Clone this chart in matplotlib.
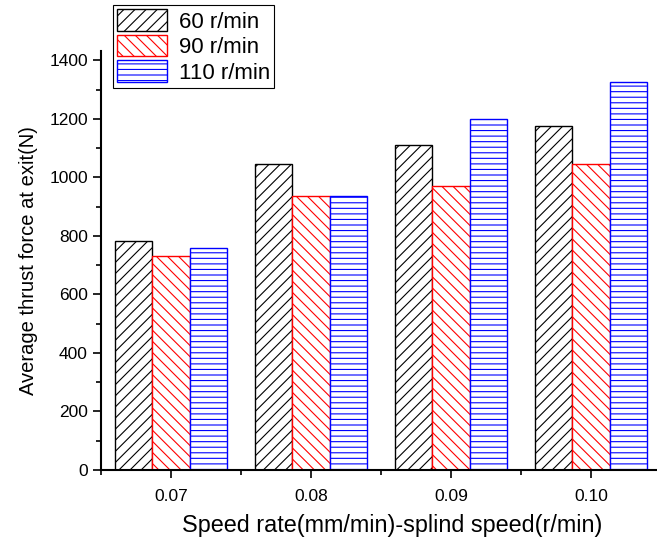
import matplotlib
matplotlib.use("Agg")
import matplotlib.pyplot as plt
import numpy as np
from matplotlib.ticker import MultipleLocator

categories = ["0.07", "0.08", "0.09", "0.10"]
series_names = ["60 r/min", "90 r/min", "110 r/min"]
v60 = [784, 1046, 1111, 1177]
v90 = [732, 937, 969, 1046]
v110 = [760, 937, 1198, 1327]

plt.rcParams['font.family'] = ['Liberation Sans', 'DejaVu Sans']
plt.rcParams['hatch.linewidth'] = 0.8

fig = plt.figure(figsize=(6.57, 5.43), dpi=100)
ax = fig.add_axes([101/657, 73/543, 560/657, 419/543])

x = np.arange(len(categories))
w = 0.8/3
styles = [("black", "///"), ("red", "\\\\\\"), ("blue", "---")]
data = [v60, v90, v110]
handles = []
for i, (vals, (col, h)) in enumerate(zip(data, styles)):
    b = ax.bar(x + (i-1)*w, vals, width=w, facecolor="white", edgecolor=col,
               hatch=h, linewidth=1.0, label=series_names[i])
    handles.append(b)

ax.set_xlim(-0.5, 3.5)
ax.set_ylim(0, 1432)
ax.set_xticks(x)
ax.set_xticklabels(categories)
ax.xaxis.set_minor_locator(MultipleLocator(0.5))
ax.yaxis.set_major_locator(MultipleLocator(200))
ax.yaxis.set_minor_locator(MultipleLocator(100))
ax.tick_params(which='major', direction='out', length=6, width=1.2, labelsize=12.5)
ax.tick_params(which='minor', direction='out', length=3.5, width=1.2)
ax.tick_params(axis='x', which='major', pad=8)
for s in ['top', 'right']:
    ax.spines[s].set_visible(False)
for s in ['left', 'bottom']:
    ax.spines[s].set_linewidth(1.5)

ax.set_xlabel("Speed rate(mm/min)-splind speed(r/min)", fontsize=16.8)
ax.xaxis.set_label_coords(0.52, -0.105)
ax.set_ylabel("Average thrust force at exit(N)", fontsize=14.5, labelpad=8)

leg = fig.legend(handles=handles, labels=series_names, loc='upper left',
                 bbox_to_anchor=(113/657, 1-5/543), borderaxespad=0, fontsize=16,
                 handlelength=2.25, handleheight=1.1, labelspacing=0.1,
                 handletextpad=0.5, borderpad=0.2, fancybox=False,
                 edgecolor='black', framealpha=1)
leg.get_frame().set_linewidth(0.8)

fig.savefig("out.png", dpi=100)
